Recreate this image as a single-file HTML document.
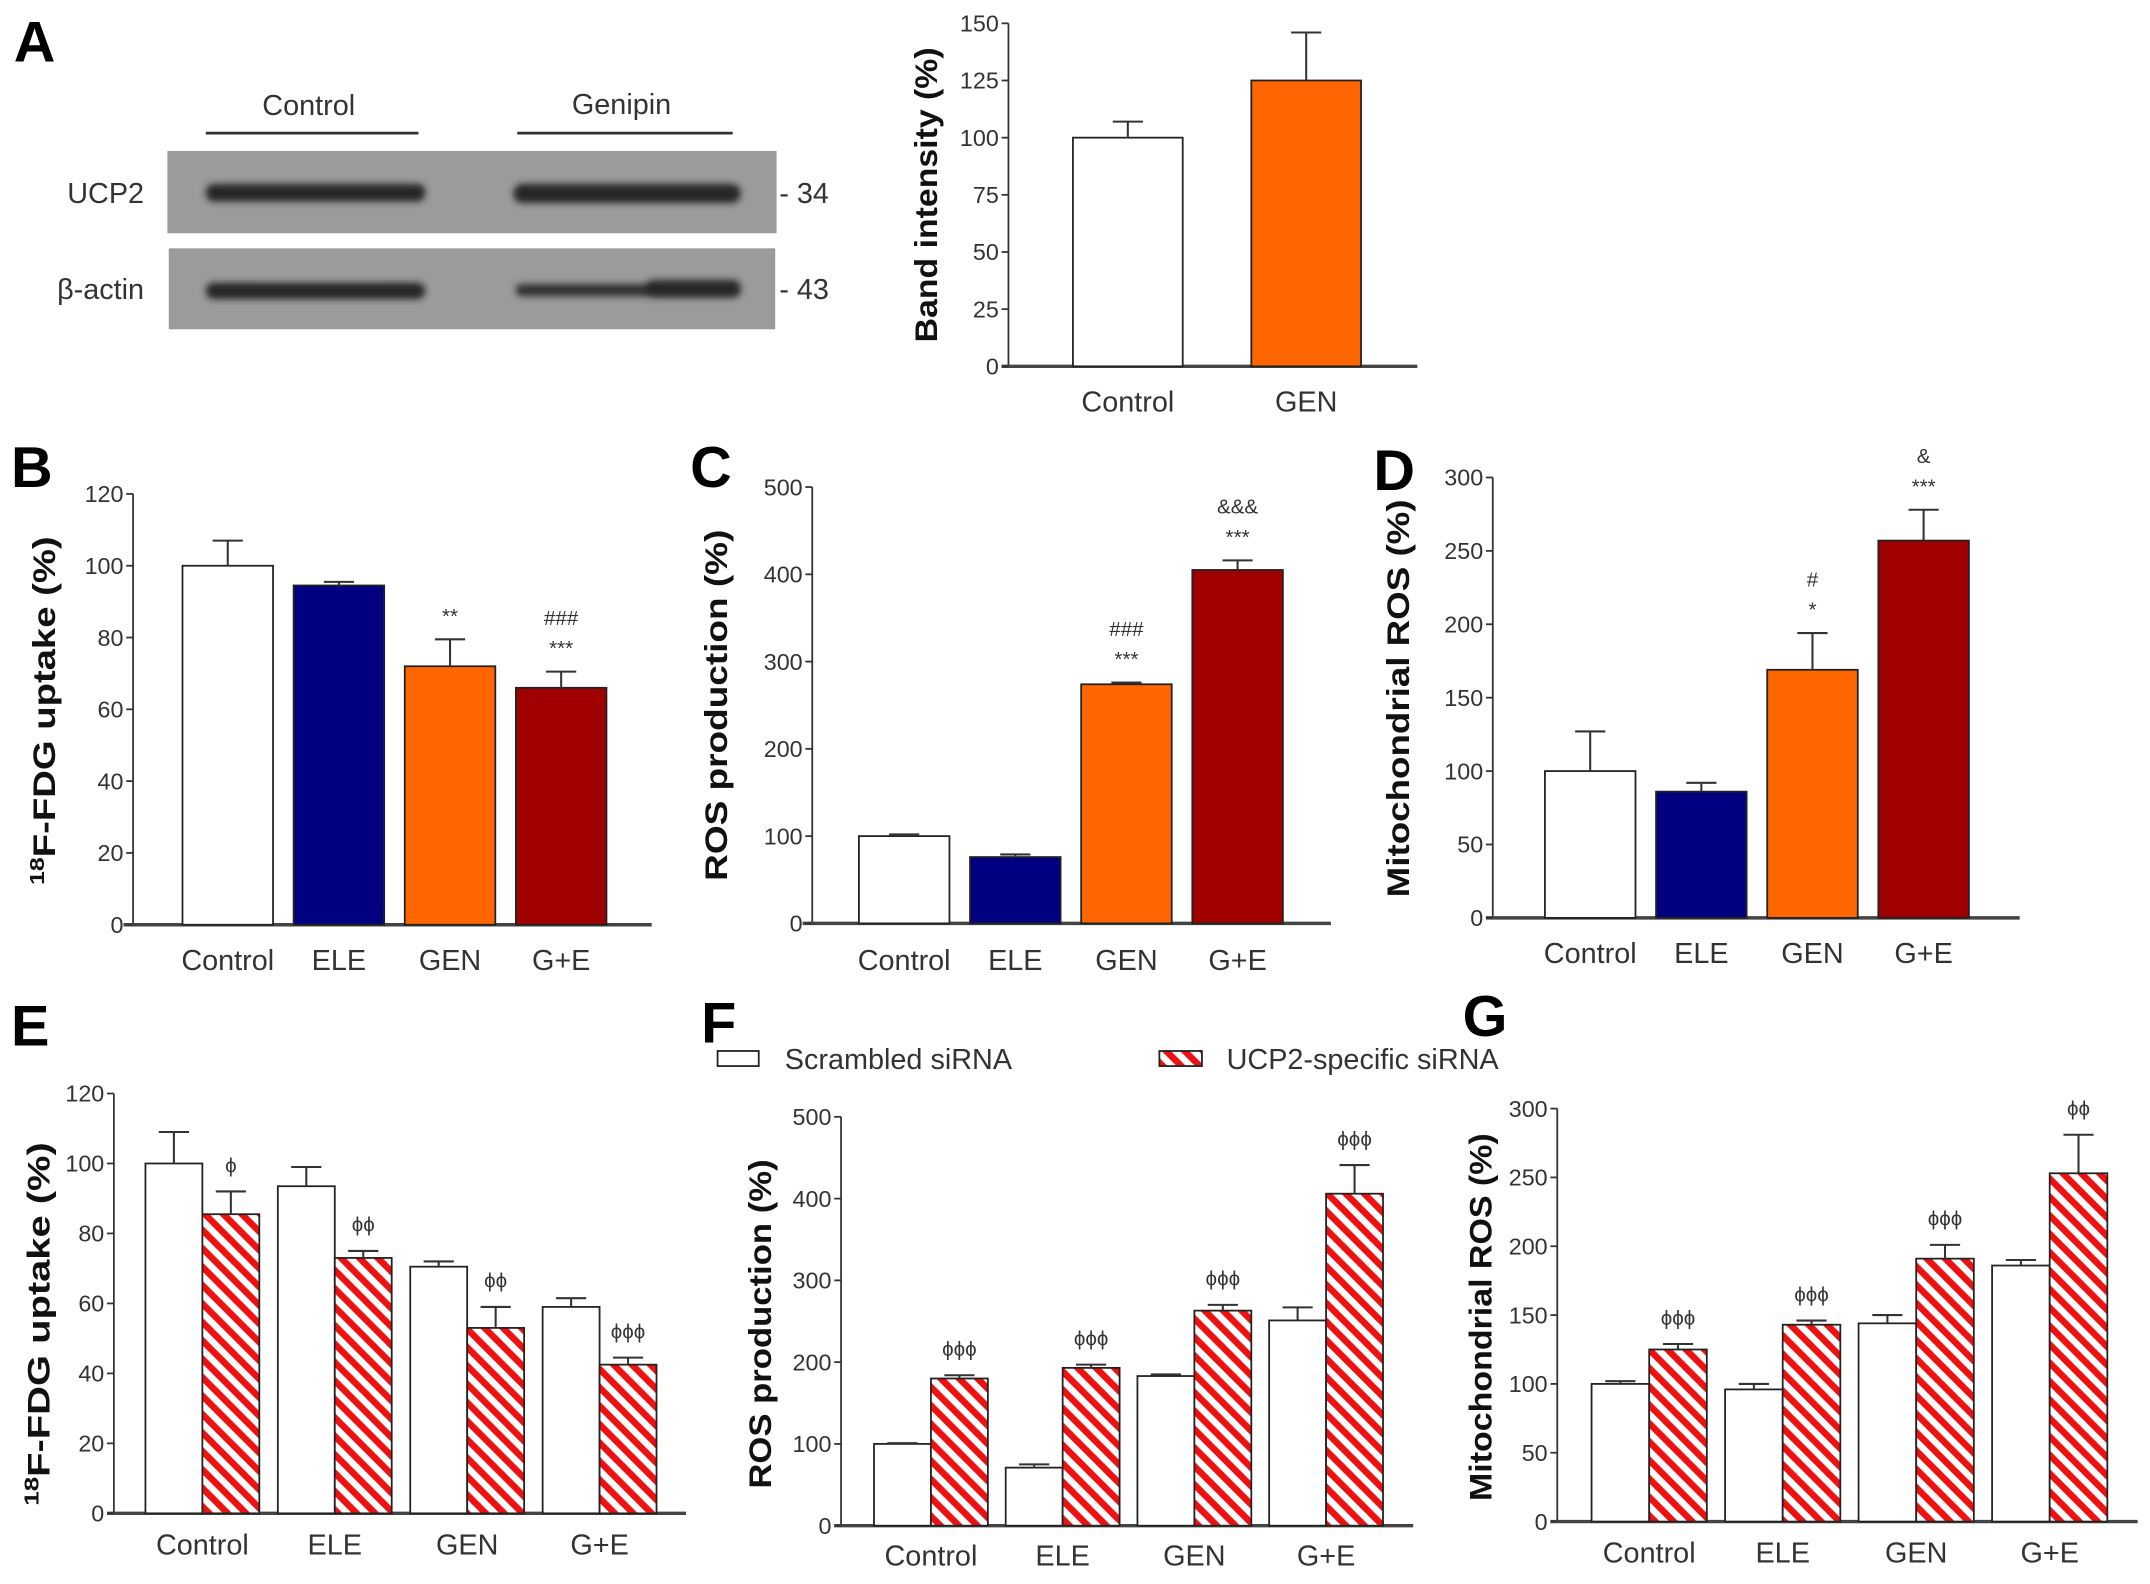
<!DOCTYPE html>
<html><head><meta charset="utf-8">
<style>
html,body{margin:0;padding:0;background:#fff}
svg{display:block}
text{font-family:"Liberation Sans",Arial,sans-serif;fill:#333}
.tick{font-size:17px}
.cat{font-size:21px}
.title{font-size:23px;font-weight:bold;fill:#111}
.letter{font-size:42px;font-weight:bold;fill:#000}
.ann{font-size:15px;fill:#333}
</style></head>
<body>
<svg id="fig" width="2150" height="1584" viewBox="0 0 1567 1154.5" preserveAspectRatio="none" xmlns="http://www.w3.org/2000/svg">
<defs>
<pattern id="hatch" width="9.5" height="9.5" patternUnits="userSpaceOnUse" patternTransform="rotate(-45)">
<rect width="9.5" height="9.5" fill="#fff"/><rect width="4.8" height="9.5" fill="#ee1111"/>
</pattern>
<filter id="blur"><feGaussianBlur stdDeviation="2.5"/></filter>
</defs>
<g>
<text class="letter" x="10" y="45">A</text>
<text class="cat" x="225" y="84" text-anchor="middle">Control</text>
<line x1="150" y1="97" x2="305" y2="97" stroke="#333" stroke-width="2"/>
<text class="cat" x="453" y="83" text-anchor="middle">Genipin</text>
<line x1="377" y1="97" x2="534" y2="97" stroke="#333" stroke-width="2"/>
<rect x="122" y="110" width="444" height="60" fill="#9b9b9b"/>
<rect x="123" y="181" width="442" height="59" fill="#9b9b9b"/>
<g filter="url(#blur)">
<rect x="150" y="134" width="160" height="13" rx="6" fill="#262626"/>
<rect x="374" y="134" width="166" height="14" rx="7" fill="#262626"/>
<rect x="150" y="206" width="160" height="12" rx="6" fill="#262626"/>
<rect x="376" y="207" width="164" height="9" rx="4" fill="#333"/>
<rect x="470" y="204" width="70" height="13" rx="6" fill="#262626"/>
</g>
<text class="cat" x="105" y="148" text-anchor="end">UCP2</text>
<text class="cat" x="105" y="218" text-anchor="end">β-actin</text>
<text class="cat" x="568" y="148">- 34</text>
<text class="cat" x="568" y="218">- 43</text>
</g>
</svg>
<script>
// ---- data ----
const catsA = ["Control","GEN"];
const valsA = [100,125];
const errA = [107,146];
const ticksA = [0,25,50,75,100,125,150];

const cats4 = ["Control","ELE","GEN","G+E"];
const valsB = [100,94.5,72,66];
const errB = [107,95.5,79.5,70.5];
const ticksB = [0,20,40,60,80,100,120];
const annB = [[],[],["**"],["###","***"]];

const valsC = [100,76,274,405];
const errC = [102,79,276,416];
const ticksC = [0,100,200,300,400,500];
const annC = [[],[],["###","***"],["&&&","***"]];

const valsD = [100,86,169,257];
const errD = [127,92,194,278];
const ticksD = [0,50,100,150,200,250,300];
const annD = [[],[],["#","*"],["&","***"]];

const scrE = [100,93.5,70.5,59];
const scrErrE = [109,99,72,61.5];
const ucpE = [85.5,73,53,42.5];
const ucpErrE = [92,75,59,44.5];
const annE = ["ϕ","ϕϕ","ϕϕ","ϕϕϕ"];

const scrF = [100,71,183,251];
const scrErrF = [101,75,185,267];
const ucpF = [180,193,263,406];
const ucpErrF = [184,197,270,441];
const annF = ["ϕϕϕ","ϕϕϕ","ϕϕϕ","ϕϕϕ"];

const scrG = [100,96,144,186];
const scrErrG = [102,100,150,190];
const ucpG = [125,143,191,253];
const ucpErrG = [129,146,201,281];
const annG = ["ϕϕϕ","ϕϕϕ","ϕϕϕ","ϕϕ"];

const colors4 = ["#ffffff","#000080","#ff6600","#a00000"];

// ---- drawing ----
const NS = "http://www.w3.org/2000/svg";
const svg = document.getElementById("fig");
function mk(tag, attrs, parent, txt){
  const e = document.createElementNS(NS, tag);
  for (const k in attrs) e.setAttribute(k, attrs[k]);
  if (txt !== undefined) e.textContent = txt;
  (parent || svg).appendChild(e);
  return e;
}
function axis(g, ax, y0, y1, ticks, base0, base1, title, tx){
  const max = ticks[ticks.length-1];
  const sy = v => y0 - (y0 - y1) * v / max;
  mk("line",{x1:ax,y1:sy(max),x2:ax,y2:y0,stroke:"#333","stroke-width":1.3},g);
  mk("line",{x1:base0,y1:y0,x2:base1,y2:y0,stroke:"#444","stroke-width":2.5},g);
  ticks.forEach(t=>{
    const tk = mk("line",{x1:ax-5,y1:sy(t),x2:ax,y2:sy(t),stroke:"#333","stroke-width":1.3},g);
    
    
    const lb = mk("text",{x:ax-7,y:sy(t)+6,"text-anchor":"end",class:"tick"},g,t);
    
    
  });
  const cy = title.cy;
  const tt = mk("text",{x:tx,y:cy,class:"title","text-anchor":"middle",textLength:title.len,lengthAdjust:"spacingAndGlyphs",transform:`rotate(-90 ${tx} ${cy})`},g);
  
  
  if (title.sup){
    mk("tspan",{"font-size":"15","dy":"-8"},tt,title.sup);
    mk("tspan",{"dy":"8"},tt,title.text);
  } else tt.textContent = title.text;
  return sy;
}
function bar(g, x, w, v, e, sy, fill, name){
  const r = mk("rect",{x:x,y:sy(v),width:w,height:sy(0)-sy(v),fill:fill,stroke:"#222","stroke-width":1.3},g);
  
  
  const cx = x + w/2;
  const eb = mk("path",{d:`M${cx} ${sy(v)}V${sy(e)}M${cx-11} ${sy(e)}H${cx+11}`,stroke:"#333","stroke-width":1.5,fill:"none"},g);
  
  
}
function grp(name){
  const g = mk("g",{});
  
  
  return g;
}
function catLabel(g, x, y, t){
  const l = mk("text",{x:x,y:y,"text-anchor":"middle",class:"cat"},g,t);
  
  
}
function letter(g,x,y,t){
  const l = mk("text",{x:x,y:y,class:"letter"},g,t);
  
  
}

// Panel A chart
(function(){
  const g = grp("panel-a-chart");
  const sy = axis(g,735,267,17,ticksA,730,1033,{text:"Band intensity (%)",len:215,cy:142},683);
  const xs=[782,912];
  catsA.forEach((c,i)=>{
    bar(g,xs[i],80,valsA[i],errA[i],sy,i?"#ff6600":"#fff","bar-"+c.toLowerCase());
    catLabel(g,xs[i]+40,300,c);
  });
})();

function single(name,L,lx,ly,ax,y0,y1,ticks,b0,b1,title,tx,x0,step,vals,errs,anns,ly2){
  const g = grp(name);
  letter(g,lx,ly,L);
  const sy = axis(g,ax,y0,y1,ticks,b0,b1,title,tx);
  cats4.forEach((c,i)=>{
    const x = x0 + i*step;
    bar(g,x,66,vals[i],errs[i],sy,colors4[i],"bar-"+c.toLowerCase());
    catLabel(g,x+33,ly2,c);
    anns[i].slice().reverse().forEach((a,j)=>{
      const t = mk("text",{x:x+33,y:sy(errs[i])-12-j*22,"text-anchor":"middle",class:"ann"},g,a);
      
      
    });
  });
}
single("panel-b","B",8,355,97,674,360,ticksB,90,475,{sup:"18",text:"F-FDG uptake (%)",len:254,cy:518},40,133,81,valsB,errB,annB,707);
single("panel-c","C",503,355,592,673,355,ticksC,585,970,{text:"ROS production (%)",len:256,cy:514},530,626,81,valsC,errC,annC,707);
single("panel-d","D",1001,357,1088,669,348,ticksD,1083,1472,{text:"Mitochondrial ROS (%)",len:290,cy:509},1027,1126,81,valsD,errD,annD,702);

function paired(name,L,lx,ly,ax,y0,y1,ticks,b0,b1,title,tx,x0,step,w,scr,scrE_,ucp,ucpE_,anns,ly2){
  const g = grp(name);
  letter(g,lx,ly,L);
  const sy = axis(g,ax,y0,y1,ticks,b0,b1,title,tx);
  cats4.forEach((c,i)=>{
    const x = x0 + i*step;
    bar(g,x,w,scr[i],scrE_[i],sy,"#fff","bar-scrambled-"+c.toLowerCase());
    bar(g,x+w,w,ucp[i],ucpE_[i],sy,"url(#hatch)","bar-ucp2-"+c.toLowerCase());
    catLabel(g,x+w,ly2,c);
    const t = mk("text",{x:x+w*1.5,y:sy(ucpE_[i])-14,"text-anchor":"middle",class:"ann","font-size":"20"},g,anns[i]);
    
    
  });
}
paired("panel-e","E",8,762,83,1103,797,ticksB,78,500,{sup:"18",text:"F-FDG uptake (%)",len:265,cy:965},36,106,96.5,41.5,scrE,scrErrE,ucpE,ucpErrE,annE,1133);
paired("panel-f","F",511,760,613,1112,814,ticksC,608,1030,{text:"ROS production (%)",len:240,cy:965},562,637,96,41.5,scrF,scrErrF,ucpF,ucpErrF,annF,1141);
paired("panel-g","G",1066,755,1135,1109,808,ticksD,1130,1558,{text:"Mitochondrial ROS (%)",len:268,cy:960},1087,1160,97.3,42,scrG,scrErrG,ucpG,ucpErrG,annG,1139);

// legend
(function(){
  const g = grp("legend");
  const a = mk("rect",{x:523,y:766,width:30,height:11,fill:"#fff",stroke:"#222","stroke-width":1.3},g);
  
  
  const t1 = mk("text",{x:572,y:779,class:"cat","font-size":"20"},g,"Scrambled siRNA");
  
  
  const b = mk("rect",{x:845,y:766,width:31,height:11,fill:"url(#hatch)",stroke:"#222","stroke-width":1.3},g);
  
  
  const t2 = mk("text",{x:894,y:779,class:"cat","font-size":"20"},g,"UCP2-specific siRNA");
  
  
})();
</script>
</body></html>
